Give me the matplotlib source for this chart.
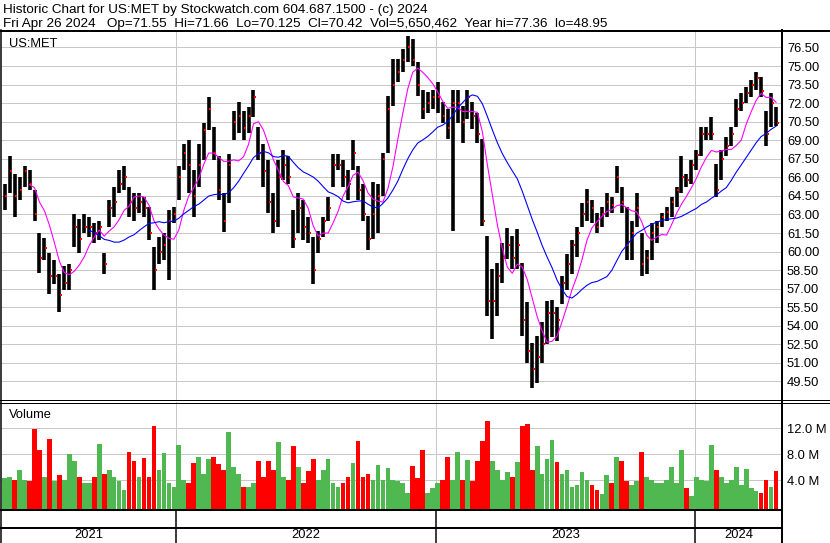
import matplotlib
matplotlib.use("Agg")
import numpy as np
import pandas as pd
from matplotlib import pyplot as plt
from matplotlib import dates as mdates
from matplotlib.lines import Line2D
from matplotlib.ticker import FormatStrFormatter

plt.rcParams["font.family"] = ["Liberation Sans", "DejaVu Sans"]

# weekly bars (week ending Friday), prices in USD
high = [65.5, 67.7, 66.3, 66.0, 66.9, 66.6, 65.0, 61.5, 61.1, 59.9,
        59.3, 58.2, 58.8, 59.0, 63.0, 62.6, 63.0, 62.8, 62.3, 62.5,
        59.9, 64.2, 65.2, 66.6, 66.9, 65.2, 64.7, 64.7, 64.4, 63.6,
        60.4, 61.2, 61.5, 63.4, 63.6, 66.9, 68.7, 69.0, 66.6, 68.7,
        70.4, 72.5, 70.1, 67.7, 64.7, 67.9, 71.4, 72.1, 71.4, 71.7,
        73.1, 70.1, 68.7, 67.4, 64.7, 67.4, 68.2, 67.7, 63.4, 64.7,
        64.2, 62.8, 61.2, 61.7, 62.8, 64.4, 67.9, 67.9, 67.4, 66.6,
        69.0, 66.9, 65.5, 62.9, 65.6, 65.5, 68.0, 72.6, 75.6, 75.6,
        76.4, 77.4, 77.2, 75.3, 73.1, 72.9, 73.1, 73.7, 72.1, 71.5,
        73.1, 73.1, 71.8, 73.1, 72.1, 71.2, 69.1, 61.3, 58.6, 59.1,
        60.7, 61.9, 61.3, 61.8, 59.1, 55.9, 52.6, 53.2, 54.3, 56.0,
        56.1, 55.5, 58.0, 59.8, 60.9, 62.0, 63.9, 65.1, 64.2, 63.1,
        63.6, 64.7, 64.4, 66.9, 65.2, 63.6, 62.5, 64.7, 61.5, 60.1,
        62.3, 62.5, 63.1, 63.6, 64.4, 65.2, 67.7, 66.3, 67.4, 68.2,
        70.1, 70.1, 70.9, 67.1, 68.2, 69.3, 70.1, 72.3, 72.8, 73.3,
        73.9, 74.5, 74.1, 71.4, 72.8, 71.66]
low = [63.4, 64.7, 62.8, 64.2, 65.2, 65.0, 62.5, 58.3, 59.3, 56.6,
       57.4, 55.1, 56.9, 56.9, 60.4, 59.9, 61.5, 61.2, 60.7, 60.9,
       58.2, 62.0, 62.8, 64.7, 65.0, 62.8, 62.5, 63.1, 62.8, 60.9,
       56.9, 59.0, 59.3, 57.7, 62.3, 64.2, 66.6, 64.7, 62.8, 65.2,
       67.4, 69.8, 67.4, 64.2, 61.6, 63.9, 69.0, 69.6, 69.0, 69.6,
       70.9, 67.4, 65.2, 63.1, 61.5, 62.0, 65.8, 65.5, 60.3, 61.5,
       60.9, 60.7, 57.4, 59.9, 61.2, 62.5, 65.2, 66.6, 65.2, 64.2,
       66.6, 64.2, 62.5, 60.1, 61.0, 61.5, 64.5, 68.0, 71.8, 73.7,
       74.5, 75.3, 75.0, 72.6, 70.7, 71.2, 71.5, 71.2, 70.4, 69.1,
       61.7, 70.4, 68.8, 70.7, 69.9, 68.8, 62.1, 54.8, 52.9, 54.8,
       57.5, 59.4, 58.6, 58.6, 53.2, 51.0, 49.0, 49.4, 51.0, 52.5,
       53.1, 52.8, 55.8, 56.9, 58.2, 59.6, 62.0, 62.5, 62.3, 61.5,
       62.0, 62.8, 63.1, 64.7, 63.1, 59.3, 59.3, 62.0, 58.0, 58.2,
       59.3, 60.7, 62.0, 62.5, 62.8, 63.6, 64.7, 65.2, 65.5, 66.6,
       67.7, 69.0, 69.0, 64.4, 65.8, 67.7, 68.5, 70.1, 71.4, 72.0,
       72.5, 73.1, 72.5, 68.5, 70.1, 70.125]
close = [64.5, 66.5, 64.5, 65.0, 66.5, 65.5, 63.0, 59.5, 60.3, 58.0,
         58.0, 56.5, 57.5, 58.5, 62.0, 61.0, 62.0, 62.0, 61.5, 62.0,
         59.0, 63.5, 64.0, 65.5, 66.0, 64.0, 63.5, 64.0, 63.5, 61.5,
         58.5, 60.0, 60.5, 62.5, 63.0, 66.0, 68.0, 67.0, 64.5, 67.0,
         69.8, 71.5, 68.0, 65.0, 62.5, 67.0, 70.5, 71.0, 70.0, 71.0,
         72.5, 68.0, 66.5, 64.0, 62.5, 66.0, 67.0, 66.0, 61.0, 63.5,
         62.0, 61.5, 58.5, 61.0, 62.5, 63.5, 67.0, 67.0, 66.0, 65.5,
         68.0, 65.0, 63.0, 61.0, 63.0, 64.5, 67.5, 71.5, 73.5, 74.5,
         75.5, 76.5, 75.5, 73.5, 71.5, 72.0, 72.5, 72.5, 71.0, 70.0,
         72.0, 72.0, 70.5, 72.5, 71.0, 69.5, 62.5, 56.0, 56.0, 58.0,
         59.5, 60.5, 59.5, 60.5, 54.5, 52.0, 50.5, 51.5, 52.5, 55.0,
         55.0, 54.5, 57.5, 59.0, 60.5, 61.5, 63.0, 64.0, 63.5, 62.0,
         63.0, 64.0, 63.8, 66.0, 64.0, 60.5, 61.5, 63.5, 59.0, 59.5,
         61.5, 62.0, 62.8, 63.2, 64.0, 65.0, 66.0, 65.8, 67.0, 67.8,
         69.5, 69.5, 69.5, 65.0, 67.5, 68.5, 69.5, 71.5, 72.0, 72.8,
         73.5, 74.0, 73.0, 69.5, 72.0, 70.42]
# volume in millions of shares
volume = [4.3, 4.5, 4.0, 5.5, 4.0, 3.8, 11.9, 8.7, 4.5, 10.4,
          3.8, 4.8, 4.0, 8.0, 7.0, 4.5, 3.5, 3.5, 4.5, 9.5,
          5.0, 5.5, 4.5, 3.8, 2.5, 8.4, 7.0, 4.5, 7.4, 4.5,
          12.4, 5.5, 8.2, 3.5, 3.0, 9.4, 4.0, 3.5, 6.6, 7.5,
          5.0, 7.2, 7.5, 6.5, 5.5, 11.5, 6.0, 5.0, 3.0, 3.0,
          3.5, 7.0, 4.5, 7.0, 5.5, 9.9, 4.5, 4.0, 9.3, 6.0,
          3.5, 5.4, 7.3, 4.0, 5.5, 7.2, 3.5, 3.0, 3.5, 4.5,
          6.7, 10.0, 4.5, 5.0, 4.0, 6.4, 4.0, 5.8, 4.0, 3.8,
          3.5, 2.0, 6.2, 4.3, 8.7, 2.0, 2.8, 3.5, 4.0, 7.5,
          4.0, 8.3, 4.0, 7.1, 3.8, 7.0, 10.1, 13.1, 7.0, 5.5,
          4.0, 5.3, 4.5, 6.8, 12.4, 12.7, 5.5, 9.3, 5.0, 7.3,
          10.2, 6.8, 5.0, 5.6, 3.0, 3.2, 5.3, 4.0, 3.3, 2.5,
          1.8, 4.8, 3.5, 7.6, 6.9, 3.8, 3.3, 3.8, 8.3, 4.5,
          4.0, 3.5, 3.5, 4.0, 6.1, 3.5, 8.6, 2.8, 1.6, 4.5,
          4.0, 3.8, 9.4, 5.5, 4.5, 3.5, 4.0, 6.0, 3.2, 5.7,
          2.8, 2.3, 2.0, 4.0, 3.0, 5.4]

year_labels = ["2021", "2022", "2023", "2024"]
year_starts = ["2022-01-01", "2023-01-01", "2024-01-01"]
price_ticks = np.arange(49.5, 77.0, 1.5)
vol_ticks = [4, 8, 12]

header1 = "Historic Chart for US:MET by Stockwatch.com 604.687.1500 - (c) 2024"
header2 = ("Fri Apr 26 2024   Op=71.55  Hi=71.66  Lo=70.125  Cl=70.42  "
           "Vol=5,650,462  Year hi=77.36  lo=48.95")

W, H = 830, 543
PX = 0.72  # one pixel in points at dpi 100
FS = 9.3

week_end = pd.date_range("2021-05-07", periods=len(close), freq="W-FRI")
x = mdates.date2num(week_end - pd.Timedelta(days=2))
ma_short = pd.Series(close).rolling(6).mean()
ma_long = pd.Series(close).rolling(18).mean()

ys = mdates.date2num(pd.to_datetime(year_starts))
px_per_day = (695 - 176) / (ys[2] - ys[0])
xmin = ys[0] - 175 / px_per_day
xmax = ys[2] + 87 / px_per_day

up = np.r_[True, np.diff(close) >= 0]
vol_colors = np.where(up, "#50b850", "#ff0000")

fig = plt.figure(figsize=(W / 100, H / 100), dpi=100)


def frac_rect(x0, y0, x1, y1):
    return [x0 / W, 1 - y1 / H, (x1 - x0) / W, (y1 - y0) / H]


def line_px(xs, ys_, lw):
    fig.add_artist(Line2D([v / W for v in xs], [1 - v / H for v in ys_],
                          color="black", lw=lw * PX))


# --- price panel ---
ax = fig.add_axes(frac_rect(1, 31, 782, 400))
ax.vlines(x, low, high, color="black", lw=3.6 * PX)
ax.scatter(x + 2.2, close, marker="s", s=(2 * PX) ** 2, color="red", lw=0,
           zorder=3)
ax.plot(x, ma_short, color="#ff00ff", lw=1.1 * PX, zorder=4)
ax.plot(x, ma_long, color="#0000ff", lw=1.1 * PX, zorder=4)
ax.set_xlim(xmin, xmax)
ax.set_ylim(76.5 - (400 - 47.5) / 12.37, 76.5 + (47.5 - 31) / 12.37)
ax.set_yticks(price_ticks)
ax.set_xticks(ys)
ax.set_xticklabels([])
ax.yaxis.tick_right()
ax.yaxis.set_major_formatter(FormatStrFormatter("%.2f"))
ax.tick_params(axis="both", length=0)
ax.tick_params(axis="y", pad=5 * PX, labelsize=FS)
ax.grid(True, color="#c8c8c8", lw=1 * PX)
ax.set_axisbelow(True)
for s in ax.spines.values():
    s.set_visible(False)
fig.text(9 / W, 1 - 46.5 / H, "US:MET", fontsize=FS, va="baseline")

# --- volume panel ---
axv = fig.add_axes(frac_rect(1, 402, 782, 509))
vbot = -(509 - 506) / 6.475
axv.bar(x, np.array(volume) - vbot, bottom=vbot, width=6.6,
        color=vol_colors, lw=0)
axv.set_xlim(xmin, xmax)
axv.set_ylim(vbot, (506 - 402) / 6.475)
axv.set_yticks(vol_ticks)
axv.set_yticklabels([f"{v:.1f} M" for v in vol_ticks])
axv.set_xticks(ys)
axv.set_xticklabels([])
axv.yaxis.tick_right()
axv.tick_params(axis="both", length=0)
axv.tick_params(axis="y", pad=5 * PX, labelsize=FS)
axv.grid(True, color="#c8c8c8", lw=1 * PX)
axv.set_axisbelow(True)
for s in axv.spines.values():
    s.set_visible(False)
fig.text(9 / W, 1 - 418 / H, "Volume", fontsize=FS, va="baseline")

# --- year band ---
axb = fig.add_axes(frac_rect(1, 511, 782, 543))
axb.set_xlim(xmin, xmax)
axb.set_ylim(0, 1)
axb.axis("off")
axb.vlines(ys, 0, 1, color="black", lw=1.5 * PX)
edges = np.r_[xmin, ys, xmax]
for lab, a, b in zip(year_labels, edges[:-1], edges[1:]):
    axb.text((a + b) / 2, 0.25, lab, ha="center", va="center", fontsize=FS)

# --- frame ---
line_px([0, 830], [30.5, 30.5], 2)
line_px([0.5, 0.5], [30, 543], 1.5)
line_px([782, 782], [30, 543], 2)
line_px([829.5, 829.5], [30, 543], 1)
line_px([0, 830], [400, 400], 1)
line_px([0, 830], [402.5, 402.5], 1)
line_px([0, 782], [510, 510], 2)
line_px([0, 782], [527.5, 527.5], 2)

fig.text(3 / W, 1 - 13.5 / H, header1, fontsize=9.7, va="baseline")
fig.text(3 / W, 1 - 27 / H, header2, fontsize=9.7, va="baseline")

fig.savefig("out.png", dpi=100)
